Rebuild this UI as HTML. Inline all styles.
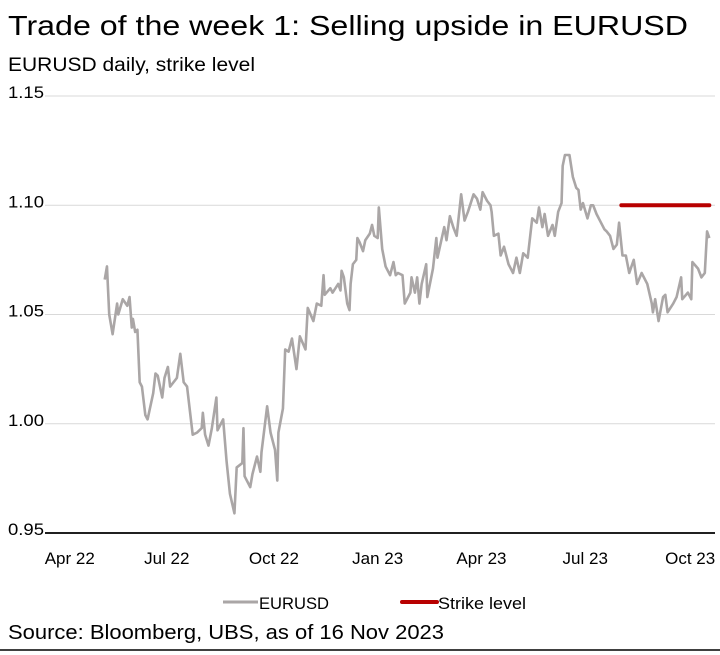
<!DOCTYPE html>
<html><head><meta charset="utf-8"><style>
html,body{margin:0;padding:0;background:#fff;width:720px;height:655px;overflow:hidden}
svg{display:block;font-family:"Liberation Sans",sans-serif}
</style></head><body>
<svg id="chart" width="720" height="655" viewBox="0 0 720 655">
<text x="8" y="35" font-size="28" textLength="680" lengthAdjust="spacingAndGlyphs" fill="#000">Trade of the week 1: Selling upside in EURUSD</text>
<text x="8" y="71" font-size="19" textLength="247" lengthAdjust="spacingAndGlyphs" fill="#000">EURUSD daily, strike level</text>
<g id="grid"></g>
<g id="yaxis"></g>
<g id="xaxis"></g>
<g id="plot"></g>
<g>
<g>
<line x1="223" y1="602" x2="258" y2="602" stroke="#aaa6a6" stroke-width="3"/>
<text x="259" y="609" font-size="17" textLength="70" lengthAdjust="spacingAndGlyphs">EURUSD</text></g>
<g>
<line x1="402" y1="602" x2="437" y2="602" stroke="#b80000" stroke-width="4" stroke-linecap="round"/>
<text x="438" y="609" font-size="17" textLength="88" lengthAdjust="spacingAndGlyphs">Strike level</text></g>
</g>
<text x="8" y="639" font-size="20" textLength="436" lengthAdjust="spacingAndGlyphs">Source: Bloomberg, UBS, as of 16 Nov 2023</text>
<line x1="0" y1="650" x2="720" y2="650" stroke="#000" stroke-width="1.5"/>
</svg>
<script>
const days=[29,31,33,36,40,41,45,49,51,53,54,56,58,60,62,65,67,72,74,76,80,82,85,87,90,93,96,99,102,107,111,115,116,118,121,124,128,129,134,137,140,144,146,151,152,153,158,160,164,167,168,173,176,180,182,183,187,189,192,195,199,202,207,209,214,217,221,223,224,229,231,236,238,239,241,244,246,247,249,252,253,255,258,260,264,266,268,271,272,275,278,282,285,287,289,293,295,300,301,304,306,308,310,314,315,320,323,324,330,332,335,338,341,345,348,351,356,359,362,364,368,371,372,374,378,380,383,387,391,394,397,400,404,408,412,414,417,419,422,426,428,431,434,435,437,441,444,447,449,451,453,457,460,462,465,468,472,474,477,480,483,485,488,491,494,498,501,505,510,514,515,517,520,524,526,528,533,536,540,541,546,549,550,555,558,561,563,565];
const eurusd=[1.066,1.072,1.050,1.041,1.055,1.050,1.057,1.054,1.058,1.044,1.048,1.042,1.043,1.019,1.017,1.004,1.002,1.014,1.023,1.022,1.012,1.021,1.026,1.017,1.019,1.021,1.032,1.019,1.017,0.995,0.996,0.998,1.005,0.995,0.990,0.998,1.012,0.997,1.002,0.983,0.968,0.959,0.980,0.982,0.998,0.976,0.971,0.977,0.985,0.978,0.987,1.008,0.996,0.988,0.974,0.996,1.007,1.034,1.033,1.039,1.025,1.040,1.034,1.053,1.047,1.055,1.054,1.068,1.059,1.062,1.060,1.064,1.061,1.070,1.067,1.055,1.052,1.064,1.073,1.075,1.085,1.083,1.079,1.084,1.087,1.091,1.086,1.085,1.099,1.080,1.072,1.068,1.074,1.068,1.069,1.068,1.055,1.060,1.067,1.060,1.067,1.055,1.064,1.073,1.058,1.071,1.085,1.076,1.090,1.084,1.095,1.090,1.086,1.105,1.093,1.097,1.105,1.103,1.098,1.106,1.102,1.100,1.097,1.086,1.087,1.077,1.081,1.073,1.069,1.076,1.069,1.078,1.076,1.094,1.092,1.099,1.090,1.096,1.086,1.091,1.086,1.097,1.101,1.118,1.123,1.123,1.113,1.108,1.107,1.098,1.101,1.094,1.100,1.100,1.096,1.093,1.089,1.088,1.086,1.080,1.082,1.092,1.077,1.077,1.069,1.075,1.064,1.069,1.064,1.055,1.051,1.057,1.047,1.058,1.059,1.051,1.055,1.058,1.067,1.057,1.060,1.057,1.074,1.071,1.067,1.069,1.088,1.085];
const strikeDays=[487,565];
const strikeValues=[1.10,1.10];
const yTicks=[0.95,1.00,1.05,1.10,1.15];
const yTickLabels=["0.95","1.00","1.05","1.10","1.15"];
const xTickDays=[-2,84,179,271,363,455,548];
const xTickLabels=["Apr 22","Jul 22","Oct 22","Jan 23","Apr 23","Jul 23","Oct 23"];

const NS="http://www.w3.org/2000/svg";
const xs=d=>72+d*1.128;
const ys=v=>533-(v-0.95)/0.05*109.25;
function mk(tag,attrs,parent){const e=document.createElementNS(NS,tag);for(const k in attrs)e.setAttribute(k,attrs[k]);parent.appendChild(e);return e;}
const grid=document.getElementById('grid'),yax=document.getElementById('yaxis'),xax=document.getElementById('xaxis'),plot=document.getElementById('plot');
yTicks.forEach((t,i)=>{
  if(i>0){const g=mk('line',{x1:45,x2:715,y1:ys(t),y2:ys(t),stroke:'#d9d9d9','stroke-width':1},grid);
  
  }
  const tx=mk('text',{x:8,y:ys(t)+2,'font-size':17,textLength:36,lengthAdjust:'spacingAndGlyphs'},yax);
  tx.textContent=yTickLabels[i];
  
  
});
const base=mk('line',{x1:45,x2:715,y1:ys(0.95),y2:ys(0.95),stroke:'#000','stroke-width':1.8},xax);


xTickDays.forEach((d,i)=>{
  const tx=mk('text',{x:xs(d),y:564,'font-size':17,'text-anchor':'middle'},xax);
  tx.textContent=xTickLabels[i];
  
  
});
const p=mk('polyline',{points:days.map((d,i)=>xs(d)+','+ys(eurusd[i])).join(' '),fill:'none',stroke:'#aaa6a6','stroke-width':2.6,'stroke-linejoin':'round'},plot);


const s=mk('polyline',{points:strikeDays.map((d,i)=>xs(d)+','+ys(strikeValues[i])).join(' '),fill:'none',stroke:'#b80000','stroke-width':4,'stroke-linecap':'round'},plot);


</script>
</body></html>
